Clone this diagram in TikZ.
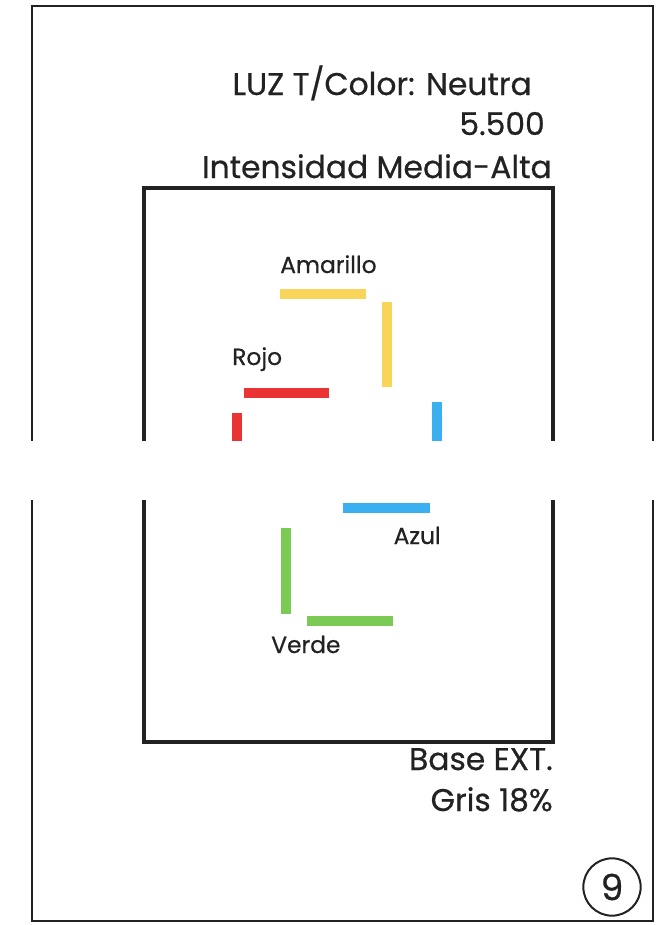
\documentclass[tikz,border=0pt]{standalone}
\usepackage{fontspec}
\setmainfont{Poppins}[FakeBold=0.6]
\usetikzlibrary{positioning}

\definecolor{amarilloC}{RGB}{248,212,88}
\definecolor{rojoC}{RGB}{234,52,52}
\definecolor{azulC}{RGB}{58,176,240}
\definecolor{verdeC}{RGB}{122,202,84}
\definecolor{textC}{RGB}{34,34,34}

\tikzset{
  bigtext/.style={text=textC, inner sep=0pt, font=\fontsize{23.5}{28}\selectfont},
  smalltext/.style={text=textC, inner sep=0pt, font=\fontsize{17.5}{21}\selectfont},
  bar/.style={line width=7.5pt, line cap=butt},
}

\begin{document}
\begin{tikzpicture}[x=0.75pt, y=-0.75pt]
\useasboundingbox (0,0) rectangle (664,925);

%draw frames
\draw[line width=2.2pt, textC] (32,6) rectangle (653,921);
\draw[line width=2.3pt, textC] (144,188) rectangle (553,742);

%light data
\node[bigtext, anchor=base east] (luz) at (532,95) {LUZ T/Color: Neutra};
\node[bigtext, anchor=base east] (temp) at (545,135) {5.500};
\node[bigtext, anchor=base east] (inten) at (552,178) {Intensidad Media-Alta};

%draw colour bars
\draw[bar, amarilloC] (280,294) -- (366,294);
\draw[bar, amarilloC] (387,302) -- (387,387);
\draw[bar, rojoC] (244,393) -- (329,393);
\draw[bar, rojoC] (237,413) -- (237,500);
\draw[bar, azulC] (437,402) -- (437,460);
\draw[bar, azulC] (343,508) -- (430,508);
\draw[bar, verdeC] (286,528) -- (286,614);
\draw[bar, verdeC] (307,621) -- (393,621);

\node[smalltext, anchor=base west] (amarillo) at (280,273) {Amarillo};
\node[smalltext, anchor=base west] (rojo) at (232,365) {Rojo};
\node[smalltext, anchor=base east] (azul) at (441,544) {Azul};
\node[smalltext, anchor=base west] (verde) at (271,653) {Verde};

%base data
\node[bigtext, anchor=base east] (base) at (553,770) {Base EXT.};
\node[bigtext, anchor=base east] (gris) at (553,811) {Gris 18\%};

\node[bigtext, font=\fontsize{27}{30}\selectfont, draw=textC, circle, line width=1.5pt, minimum size=43pt] (num) at (612,887) {9};

%blank strip
\fill[white] (0,441) rectangle (664,500);

\end{tikzpicture}
\end{document}
